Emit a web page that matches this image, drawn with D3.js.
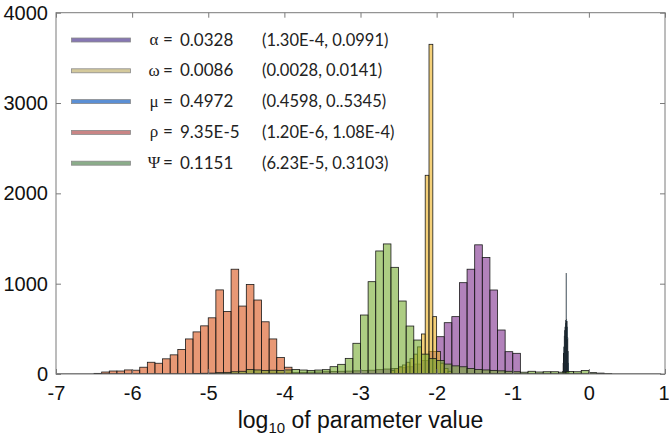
<!DOCTYPE html>
<html><head><meta charset="utf-8">
<script src="https://cdn.jsdelivr.net/npm/d3@7"></script>
<style>body{margin:0;background:#fff}</style>
</head><body><div id="chart"></div>
<script>
// ---- DATA (histogram counts) ----
const xTicks = [-7,-6,-5,-4,-3,-2,-1,0,1];
const yTicks = [0,1000,2000,3000,4000];

// alpha (purple), bins of 0.1 starting at -4.4
const alphaStart = -4.4, alphaWidth = 0.1;
const alphaCounts = [8,10,10,12,12,15,18,20,22,25,28,30,32,35,38,42,48,55,60,70,80,110,150,250,413,568,635,1011,1160,1430,1290,930,487,247,229];

// omega (yellow), bins of 0.05 starting at -2.6
const omegaStart = -2.6, omegaWidth = 0.05;
const omegaCounts = [40,60,80,100,130,170,220,300,443,2200,3650,635,250,120,60,30];

// mu (blue), bins of 0.005 starting at -0.345
const muStart = -0.345, muWidth = 0.005;
const muCounts = [30,120,230,300,420,480,520,560,590,1115,600,580,520,400,250,120,30];

// rho (red), bins of 0.1 starting at -6.5
const rhoStart = -6.5, rhoWidth = 0.1;
const rhoCounts = [7,22,33,33,45,42,75,130,119,168,212,272,388,466,533,622,931,693,1160,752,991,819,578,388,182,75];

// psi (green), bins of 0.1 starting at -5.2
const psiStart = -5.2, psiWidth = 0.1;
const psiCounts = [5,8,10,15,18,25,30,50,45,40,42,38,45,50,44,40,44,48,81,107,173,340,653,1022,1362,1440,1181,808,531,376,220,170,150,110,90,80,60,50,45,40,35,30,25,20,30,22,25,25,20,28,25,38,15,10,3];

const legendSymbols = ["α","ω","μ","ρ","Ψ"];
const legendValues = ["0.0328","0.0086","0.4972","9.35E-5","0.1151"];
const legendIntervals = ["(1.30E-4, 0.0991)","(0.0028, 0.0141)","(0.4598, 0..5345)","(1.20E-6, 1.08E-4)","(6.23E-5, 0.3103)"];

// ---- CHART ----
const W = 669, H = 446;
const svg = d3.select("#chart").append("svg").attr("width", W).attr("height", H)
  .style("font-family", "'Liberation Sans', Arial, sans-serif");
svg.append("rect").attr("width", W).attr("height", H).attr("fill", "#fff");

const L = 56, R = 665, T = 12.7, B = 374;
const x = d3.scaleLinear().domain([-7, 1]).range([L, R]);
const y = d3.scaleLinear().domain([0, 4000]).range([B, T]);

svg.append("defs").append("clipPath").attr("id", "clip")
  .append("rect").attr("x", L).attr("y", T).attr("width", R - L).attr("height", B - T);

const plot = svg.append("g").attr("clip-path", "url(#clip)");

const series = [
  {start: alphaStart, width: alphaWidth, counts: alphaCounts, fill: "#7E2F8E", sw: 0.8},
  {start: omegaStart, width: omegaWidth, counts: omegaCounts, fill: "#EDB120", sw: 0.8},
  {start: muStart, width: muWidth, counts: muCounts, fill: "#0072BD", sw: 0.5},
  {start: rhoStart, width: rhoWidth, counts: rhoCounts, fill: "#D95319", sw: 0.8},
  {start: psiStart, width: psiWidth, counts: psiCounts, fill: "#77AC30", sw: 0.8}
];

series.forEach(s => {
  const bins = s.counts.map((c, i) => ({x0: s.start + i * s.width, x1: s.start + (i + 1) * s.width, c}));
  plot.append("g").selectAll("rect").data(bins).join("rect")
    .attr("x", d => x(d.x0))
    .attr("width", d => x(d.x1) - x(d.x0))
    .attr("y", d => y(d.c))
    .attr("height", d => y(0) - y(d.c))
    .attr("fill", s.fill).attr("fill-opacity", 0.6)
    .attr("stroke", "#1a1a1a").attr("stroke-width", s.sw);
});

// baseline of the histograms
plot.append("line").attr("x1", x(-7)).attr("x2", x(0.95)).attr("y1", y(0)).attr("y2", y(0))
  .attr("stroke", "#111").attr("stroke-width", 1.2);

// axes
const axColor = "#7a7a7a";
const gx = svg.append("g").attr("transform", `translate(0,${B})`)
  .call(d3.axisBottom(x).tickValues(xTicks).tickSizeInner(-5).tickSizeOuter(0).tickPadding(11.5)
    .tickFormat(d => d < 0 ? "-" + Math.abs(d) : String(d)));
const gxt = svg.append("g").attr("transform", `translate(0,${T})`)
  .call(d3.axisTop(x).tickValues(xTicks).tickSizeInner(-5).tickSizeOuter(0).tickFormat(""));
const gy = svg.append("g").attr("transform", `translate(${L},0)`)
  .call(d3.axisLeft(y).tickValues(yTicks).tickSizeInner(-5).tickSizeOuter(0).tickPadding(8)
    .tickFormat(d3.format("d")));
const gyr = svg.append("g").attr("transform", `translate(${R},0)`)
  .call(d3.axisRight(y).tickValues(yTicks).tickSizeInner(-5).tickSizeOuter(0).tickFormat(""));
[gx, gxt, gy, gyr].forEach(g => {
  g.select(".domain").remove();
  g.selectAll(".tick line").attr("stroke", axColor);
  g.selectAll("text").attr("fill", "#111").style("font-size", "20px")
    .style("font-family", "'Liberation Sans', Arial, sans-serif");
});
gx.selectAll(".tick text").filter(d => d === 1).attr("dx", -1.5);

// frame
svg.append("rect").attr("x", L).attr("y", T).attr("width", R - L).attr("height", B - T)
  .attr("fill", "none").attr("stroke", axColor).attr("stroke-width", 1);

// x-axis title
const xt = svg.append("text").attr("x", (L + R) / 2).attr("y", 428).attr("text-anchor", "middle")
  .style("font-size", "23px").attr("fill", "#111");
xt.append("tspan").text("log");
xt.append("tspan").attr("dy", 5).style("font-size", "15px").text("10");
xt.append("tspan").attr("dy", -5).text(" of parameter value");

// legend
const swatchColors = ["#8677b3", "#d4c99c", "#5b8fd4", "#c98585", "#8bad8a"];
const legY0 = 40, legStep = 30.8;
const leg = svg.append("g");
legendSymbols.forEach((sym, i) => {
  const yy = legY0 + i * legStep;
  leg.append("rect").attr("x", 71.5).attr("y", yy - 2).attr("width", 59).attr("height", 4)
    .attr("fill", swatchColors[i]).attr("stroke", "#8a8a8a").attr("stroke-width", 0.8);
  leg.append("text").attr("x", 154).attr("y", yy + 5).attr("text-anchor", "middle")
    .style("font-family", "'Liberation Serif', 'DejaVu Serif', serif").style("font-size", "17px")
    .attr("fill", "#222").text(sym);
  leg.append("text").attr("x", 168).attr("y", yy + 5).attr("text-anchor", "middle")
    .style("font-family", "Lato, 'Open Sans', sans-serif")
    .style("font-size", "17px").attr("fill", "#222").text("=");
  leg.append("text").attr("x", 180).attr("y", yy + 5.5).style("font-family", "Lato, 'Open Sans', sans-serif")
    .style("font-size", "17px").attr("fill", "#222").text(legendValues[i]);
  leg.append("text").attr("x", 262).attr("y", yy + 5.5).style("font-family", "Lato, 'Open Sans', sans-serif")
    .style("font-size", "16.5px").attr("fill", "#222").text(legendIntervals[i]);
});
</script></body></html>
